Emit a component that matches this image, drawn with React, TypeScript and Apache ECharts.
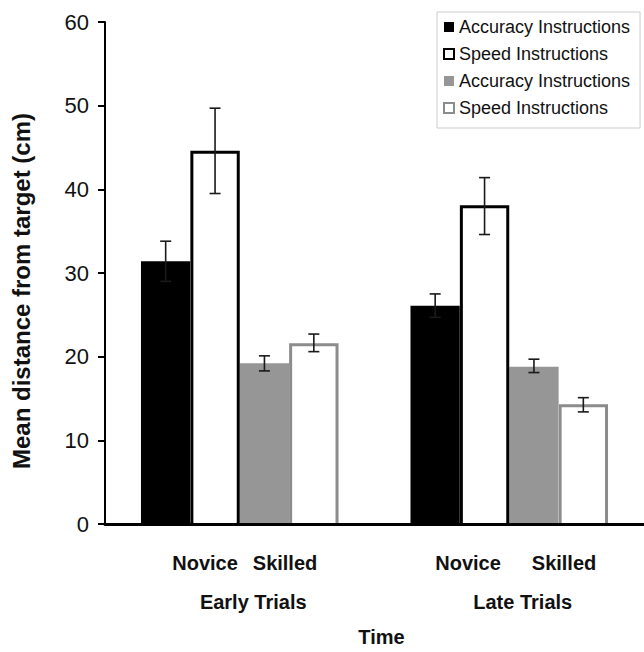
import React, { useEffect, useRef } from "react";
import * as echarts from "echarts";

const categories = ["Early Trials", "Late Trials"];
const groupLabels = ["Novice", "Skilled"];
const yTicks = [0, 10, 20, 30, 40, 50, 60];
const xTitle = "Time";
const yTitle = "Mean distance from target (cm)";

const seriesNames = [
  "Novice|Accuracy Instructions",
  "Novice|Speed Instructions",
  "Skilled|Accuracy Instructions",
  "Skilled|Speed Instructions",
];

const noviceAccuracy = [31.4, 26.1];
const noviceSpeed = [44.6, 38.1];
const skilledAccuracy = [19.2, 18.8];
const skilledSpeed = [21.6, 14.3];

const noviceAccuracyErr = [[29.0, 33.8], [24.7, 27.5]];
const noviceSpeedErr = [[39.5, 49.7], [34.6, 41.4]];
const skilledAccuracyErr = [[18.3, 20.1], [18.1, 19.7]];
const skilledSpeedErr = [[20.6, 22.7], [13.4, 15.1]];

const FONT = "'Liberation Sans', Arial, sans-serif";
const CAT_GAP = 0.267;

export default function App() {
  const ref = useRef<HTMLDivElement>(null);
  useEffect(() => {
    if (!ref.current) return;
    const chart = echarts.init(ref.current, null, { renderer: "svg" });

    const values = [noviceAccuracy, noviceSpeed, skilledAccuracy, skilledSpeed];
    const errs = [noviceAccuracyErr, noviceSpeedErr, skilledAccuracyErr, skilledSpeedErr];
    const fills = ["#000000", "#ffffff", "#969696", "#ffffff"];
    const outlines: (string | null)[] = [null, "#000000", null, "#8c8c8c"];

    const errData: number[][] = [];
    errs.forEach((e, s) => {
      e.forEach((pair, c) => {
        errData.push([c, pair[0], pair[1], s]);
      });
    });

    const outlineData: number[][] = [];
    values.forEach((v, s) => {
      if (!outlines[s]) return;
      v.forEach((val, c) => outlineData.push([c, val, s]));
    });

    const barSeries = values.map((v, i) => ({
      type: "bar",
      name: seriesNames[i],
      data: v,
      barGap: "0%",
      barCategoryGap: CAT_GAP * 100 + "%",
      itemStyle: { color: fills[i], borderWidth: 0 },
      z: 2,
    }));

    const legendData = seriesNames.map((n, i) => ({
      name: n,
      itemStyle: outlines[i]
        ? { color: "#ffffff", borderColor: outlines[i], borderWidth: 2 }
        : { color: fills[i], borderWidth: 0 },
    }));

    const option: any = {
      animation: false,
      textStyle: { fontFamily: FONT },
      grid: { left: 105, right: 0, top: 22, bottom: 125, containLabel: false },
      legend: {
        orient: "vertical",
        left: 437,
        top: 12,
        padding: [6, 10, 11, 6],
        itemGap: 9,
        itemWidth: 10,
        itemHeight: 10,
        icon: "rect",
        borderColor: "#cccccc",
        borderWidth: 1,
        data: legendData,
        formatter: (n: string) => n.split("|")[1],
        textStyle: { fontSize: 18, color: "#111", fontFamily: FONT },
      },
      xAxis: {
        type: "category",
        data: categories,
        z: 10,
        name: xTitle,
        nameLocation: "middle",
        nameGap: 103,
        nameTextStyle: {
          fontSize: 20,
          fontWeight: "bold",
          color: "#111",
          fontFamily: FONT,
          padding: [0, 0, 0, 14],
        },
        axisLine: { lineStyle: { color: "#000", width: 3 } },
        axisTick: { length: 8, lineStyle: { color: "#000", width: 2 } },
        axisLabel: {
          interval: 0,
          margin: 19,
          color: "#111",
          fontFamily: FONT,
          formatter: (val: string, idx: number) =>
            `{p${idx}|}{s|${groupLabels[0]}}{g${idx}|}{s|${groupLabels[1]}}\n{q|}{s|${val}}`,
          rich: {
            s: { fontSize: 20, fontWeight: "bold", lineHeight: 39, color: "#111", fontFamily: FONT },
            p0: { width: 10, lineHeight: 39 },
            p1: { width: 13, lineHeight: 39 },
            g0: { width: 15 },
            g1: { width: 31 },
            q: { width: 27, lineHeight: 39 },
          },
        },
      },
      yAxis: {
        type: "value",
        min: 0,
        max: 60,
        interval: 10,
        name: yTitle,
        nameLocation: "middle",
        nameGap: 72,
        nameTextStyle: {
          fontSize: 24,
          fontWeight: "bold",
          color: "#111",
          fontFamily: FONT,
          padding: [0, 36, 0, 0],
        },
        axisLine: { show: true, lineStyle: { color: "#000", width: 2 } },
        axisTick: { show: true, length: 7, lineStyle: { color: "#000", width: 2 } },
        splitLine: { show: false },
        axisLabel: {
          fontSize: 22,
          color: "#111",
          margin: 16,
          fontFamily: FONT,
          formatter: (v: number) => (yTicks.includes(v) ? String(v) : ""),
        },
      },
      series: [
        ...barSeries,
        {
          type: "custom",
          name: "outlines",
          data: outlineData,
          encode: { x: 0, y: 1 },
          z: 3,
          renderItem: (params: any, api: any) => {
            const c = api.value(0);
            const s = api.value(2);
            const band = api.size([1, 0])[0];
            const barW = (band * (1 - CAT_GAP)) / 4;
            const cx = api.coord([c, 0])[0] + (s - 1.5) * barW;
            const y0 = api.coord([c, 0])[1];
            const yt = api.coord([c, api.value(1)])[1];
            const x0 = cx - barW / 2 + 1.5;
            const x1 = cx + barW / 2 - 1.5;
            return {
              type: "polyline",
              shape: { points: [[x0, y0], [x0, yt + 1.5], [x1, yt + 1.5], [x1, y0]] },
              style: { stroke: outlines[s], lineWidth: 3, fill: null, lineJoin: "miter" },
            };
          },
        },
        {
          type: "custom",
          name: "errors",
          data: errData,
          encode: { x: 0, y: [1, 2] },
          z: 5,
          renderItem: (params: any, api: any) => {
            const c = api.value(0);
            const s = api.value(3);
            const band = api.size([1, 0])[0];
            const barW = (band * (1 - CAT_GAP)) / 4;
            const cx = api.coord([c, 0])[0] + (s - 1.5) * barW;
            const yLo = api.coord([c, api.value(1)])[1];
            const yHi = api.coord([c, api.value(2)])[1];
            const hw = 5.5;
            const st = { stroke: "#1a1a1a", lineWidth: 1.6 };
            return {
              type: "group",
              children: [
                { type: "line", shape: { x1: cx, y1: yLo, x2: cx, y2: yHi }, style: st },
                { type: "line", shape: { x1: cx - hw, y1: yLo, x2: cx + hw, y2: yLo }, style: st },
                { type: "line", shape: { x1: cx - hw, y1: yHi, x2: cx + hw, y2: yHi }, style: st },
              ],
            };
          },
        },
      ],
    };
    chart.setOption(option);
    return () => chart.dispose();
  }, []);
  return (
    <div
      ref={ref}
      style={{ position: "absolute", left: 0, top: 0, width: 644, height: 652 }}
    />
  );
}
